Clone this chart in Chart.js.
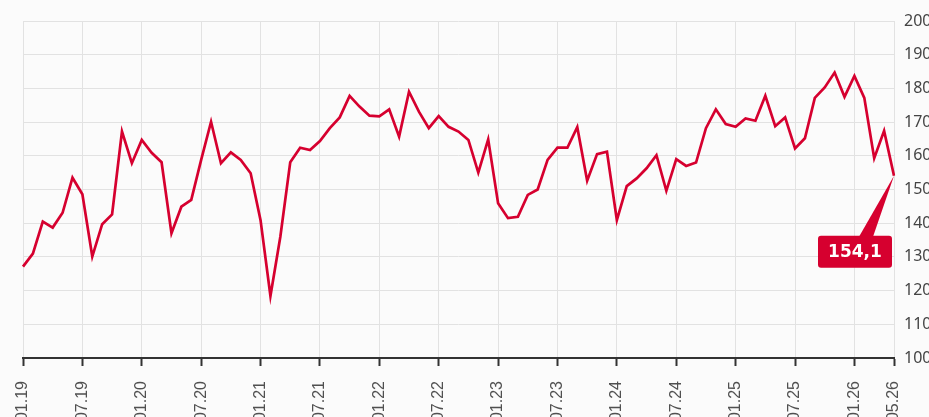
<!DOCTYPE html>
<html>
<head>
<meta charset="utf-8">
<script src="https://cdn.jsdelivr.net/npm/chart.js@4/dist/chart.umd.min.js"></script>
<style>
  html, body { margin: 0; padding: 0; background: #fbfbfb; overflow: hidden; }
  #wrap { position: relative; width: 940px; height: 450px; }
</style>
</head>
<body>
<div id="wrap"><canvas id="lineChart"></canvas></div>
<script>
// monthly values, 01.19 .. 05.26
const months = [];
for (let y = 19; y <= 26; y++) {
    for (let m = 1; m <= 12; m++) {
        if (y === 26 && m > 5) break;
        months.push(String(m).padStart(2, '0') + '.' + y);
    }
}

const values2019 = [127.1, 131.0, 140.5, 138.7, 143.1, 153.5, 148.6, 130.1, 139.7, 142.6, 167.2, 157.8];
const values2020 = [164.7, 160.9, 158.1, 137.0, 144.9, 146.9, 158.8, 170.1, 157.8, 161.0, 158.8, 154.8];
const values2021 = [140.9, 118.4, 136.0, 158.1, 162.4, 161.7, 164.4, 168.2, 171.4, 177.8, 174.6, 171.9];
const values2022 = [171.7, 173.8, 165.7, 179.0, 173.1, 168.2, 171.8, 168.6, 167.2, 164.7, 155.0, 164.9];
const values2023 = [145.9, 141.5, 141.9, 148.4, 150.0, 158.8, 162.4, 162.4, 168.5, 152.6, 160.5, 161.2];
const values2024 = [140.9, 151.0, 153.3, 156.3, 160.2, 149.6, 159.0, 157.0, 158.0, 168.2, 173.8, 169.4];
const values2025 = [168.6, 171.1, 170.4, 177.8, 168.8, 171.4, 162.2, 165.2, 177.2, 180.3, 184.7, 177.5];
const values2026 = [183.7, 177.2, 159.3, 167.4, 154.1];

const values = [].concat(values2019, values2020, values2021, values2022,
    values2023, values2024, values2025, values2026);

const yMin = 100, yMax = 200, yStep = 10;
const lineRed = '#d6002f';

const lastValueTag = {
    id: 'lastValueTag',
    afterDatasetsDraw(chart) {
        const meta = chart.getDatasetMeta(0);
        const pt = meta.data[meta.data.length - 1];
        const val = values[values.length - 1];
        const ctx = chart.ctx;
        const px = pt.x, py = pt.y;
        ctx.save();
        ctx.fillStyle = lineRed;
        // pointer wedge
        ctx.beginPath();
        ctx.moveTo(px, py);
        ctx.lineTo(px - 35, py + 61);
        ctx.lineTo(px - 21, py + 61);
        ctx.closePath();
        ctx.fill();
        // box
        const bx = px - 76, by = py + 60, bw = 74, bh = 32;
        ctx.beginPath();
        ctx.roundRect(bx, by, bw, bh, 3);
        ctx.fill();
        ctx.fillStyle = '#ffffff';
        ctx.font = 'bold 17px "DejaVu Sans", sans-serif';
        ctx.textAlign = 'center';
        ctx.textBaseline = 'middle';
        ctx.fillText(val.toFixed(1).replace('.', ','), bx + bw / 2, by + bh / 2 + 1);
        ctx.restore();
    }
};

const ctx = document.getElementById('lineChart').getContext('2d');
const lineChart = new Chart(ctx, {
    type: 'line',
    data: {
        labels: months,
        datasets: [{
            data: values,
            borderColor: lineRed,
            borderWidth: 2.7,
            pointRadius: 0,
            tension: 0,
            fill: false
        }]
    },
    options: {
        responsive: true,
        maintainAspectRatio: false,
        animation: false,
        layout: { padding: { top: 21, left: 23, right: 0, bottom: 0 } },
        plugins: {
            legend: { display: false },
            tooltip: { enabled: false }
        },
        scales: {
            x: {
                afterFit(scale) { scale.height = 92; },
                grid: {
                    color: '#e2e2e2',
                    tickColor: '#333333',
                    tickLength: 8,
                    tickWidth: 2
                },
                border: { color: '#333333', width: 2 },
                ticks: {
                    autoSkip: false,
                    minRotation: 90,
                    maxRotation: 90,
                    padding: 15,
                    color: '#505050',
                    font: { family: '"Liberation Sans", Arial, sans-serif', size: 16 },
                    callback: function(v, i) {
                        if (i % 6 === 0 || i === months.length - 1) return months[i];
                        return null;
                    }
                }
            },
            y: {
                position: 'right',
                min: yMin,
                max: yMax,
                afterFit(scale) { scale.width = 46; },
                grid: { color: '#e2e2e2', drawTicks: false },
                border: { display: false },
                ticks: {
                    stepSize: yStep,
                    padding: 10,
                    color: '#444444',
                    font: { family: '"Noto Sans", sans-serif', size: 16 }
                }
            }
        }
    },
    plugins: [lastValueTag]
});
</script>
</body>
</html>
